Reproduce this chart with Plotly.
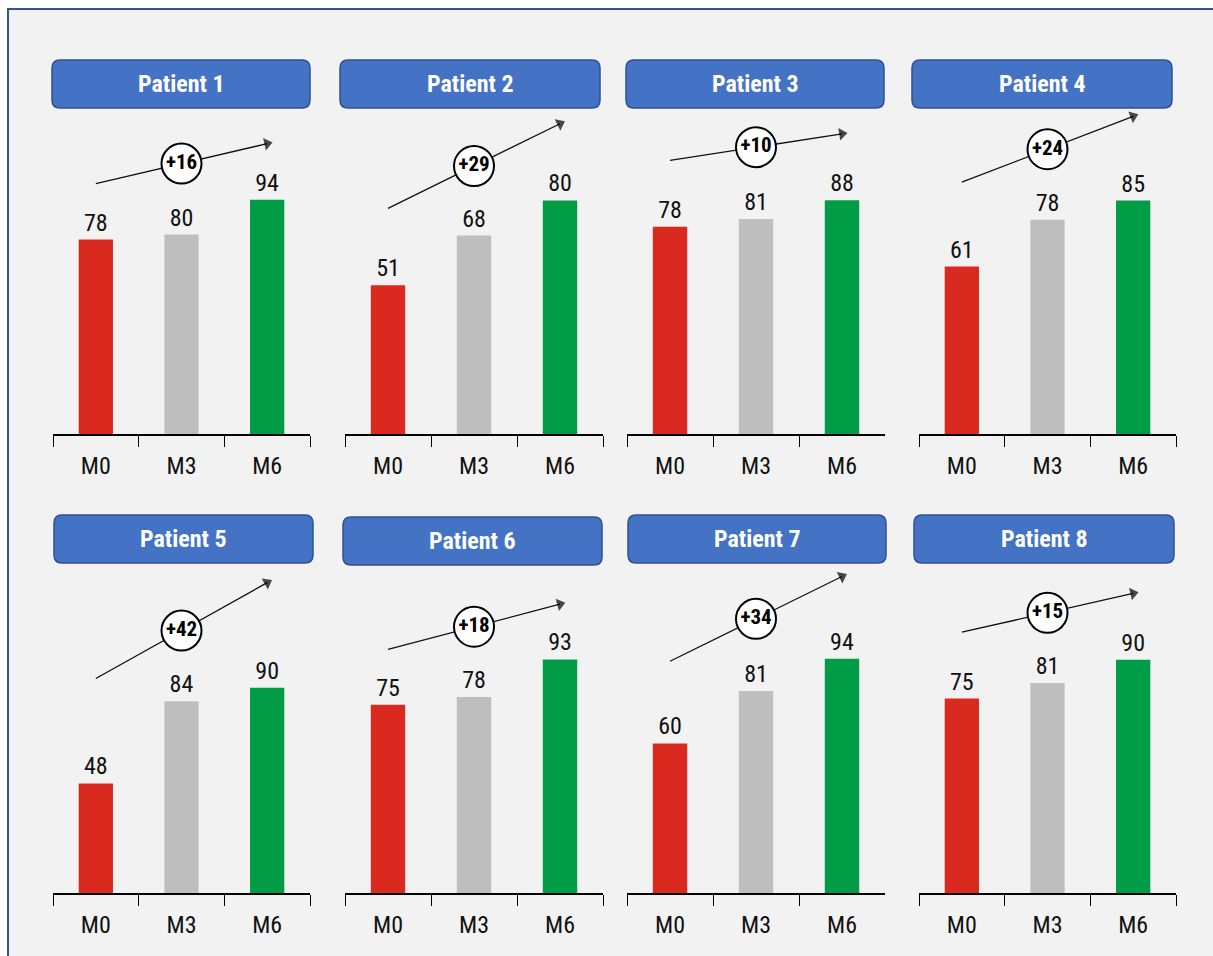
import plotly.graph_objects as go

# ---- data ----
patients = ["Patient 1", "Patient 2", "Patient 3", "Patient 4",
            "Patient 5", "Patient 6", "Patient 7", "Patient 8"]
visits = ["M0", "M3", "M6"]
m0_scores = [78, 51, 78, 61, 48, 75, 60, 75]
m3_scores = [80, 68, 81, 78, 84, 78, 81, 81]
m6_scores = [94, 80, 88, 85, 90, 93, 94, 90]

# ---- layout parameters ----
W, H = 1213, 956
bar_colors = ["#DA2A1F", "#BDBEBD", "#009C46"]
axis_top = [130, 111, 122, 118, 142, 129, 130, 125]          # y-axis upper limit per panel
arrow_lift = [22.5, 26.3, 25, 30.7, 46, 22, 33, 25.6]         # trend arrow height above the bars
col_px = [(53, 310), (345, 603), (627, 885), (919, 1176)]    # panel x extents (px)
row_px = [(110, 434), (569, 893)]                             # panel y extents (px, top/bottom)
header_px = [(52, 310, 60, 108), (340, 600, 60, 108), (626, 884, 60, 108), (912, 1172, 60, 108),
             (54, 313, 515, 563), (343, 602, 517, 565), (628, 886, 515, 563), (914, 1174, 515, 563)]

FONT = "Liberation Sans Narrow, Roboto Condensed, DejaVu Sans Condensed, Lato, sans-serif"


def px_x(v):
    return v / W


def px_y(v):
    return 1 - v / H


fig = go.Figure()
layout_axes = {}
shapes = []
annotations = []

# page frame
shapes.append(dict(type="rect", xref="paper", yref="paper",
                   x0=px_x(8), x1=1.05, y0=-0.05, y1=px_y(9),
                   fillcolor="#F2F2F2", line=dict(color="#2F5597", width=2), layer="below"))

for i, name in enumerate(patients):
    r, c = divmod(i, 4)
    n = i + 1
    xa = "x" if n == 1 else f"x{n}"
    ya = "y" if n == 1 else f"y{n}"
    vals = [m0_scores[i], m3_scores[i], m6_scores[i]]

    fig.add_trace(go.Bar(
        x=visits, y=vals, xaxis=xa, yaxis=ya,
        marker=dict(color=bar_colors, line=dict(width=0)),
        texttemplate="%{y}", textposition="outside", cliponaxis=False,
        textfont=dict(family=FONT, size=24, color="#111111"),
        showlegend=False, hoverinfo="skip"))

    # trend arrow from M0 to M6
    lift = arrow_lift[i]
    fig.add_trace(go.Scatter(
        x=["M0", "M6"], y=[vals[0] + lift, vals[2] + lift], xaxis=xa, yaxis=ya,
        mode="lines+markers", cliponaxis=False,
        line=dict(color="#111111", width=1.3),
        marker=dict(symbol="triangle-up", size=[0, 11], angleref="previous",
                    color="#000000", line=dict(width=0)),
        showlegend=False, hoverinfo="skip"))

    # change badge at the middle of the arrow
    delta = vals[2] - vals[0]
    fig.add_trace(go.Scatter(
        x=["M3"], y=[(vals[0] + vals[2]) / 2 + lift], xaxis=xa, yaxis=ya,
        mode="markers+text", cliponaxis=False,
        marker=dict(symbol="circle", size=40, color="#FFFFFF",
                    line=dict(color="#000000", width=2)),
        text=[f"<b>{delta:+d}</b>"], textposition="middle center",
        textfont=dict(family=FONT, size=21, color="#000000"),
        showlegend=False, hoverinfo="skip"))

    x0, x1 = col_px[c]
    top, bottom = row_px[r]
    layout_axes["xaxis" if n == 1 else f"xaxis{n}"] = dict(
        domain=[px_x(x0), px_x(x1)], anchor=ya,
        showline=True, linecolor="#000000", linewidth=2,
        ticks="outside", tickson="boundaries", ticklen=11, tickwidth=1.3, tickcolor="#000000",
        ticklabelstandoff=9,
        tickfont=dict(family=FONT, size=24, color="#111111"),
        showgrid=False, zeroline=False, fixedrange=True)
    layout_axes["yaxis" if n == 1 else f"yaxis{n}"] = dict(
        domain=[px_y(bottom), px_y(top)], anchor=xa,
        range=[0, axis_top[i]], visible=False, showgrid=False, zeroline=False)

    # rounded header box
    hx0, hx1, hy0, hy1 = header_px[i]
    L, R = px_x(hx0), px_x(hx1)
    T, B = px_y(hy0), px_y(hy1)
    rx, ry = 8 / W, 8 / H
    path = (f"M {L + rx},{T} L {R - rx},{T} Q {R},{T} {R},{T - ry} "
            f"L {R},{B + ry} Q {R},{B} {R - rx},{B} L {L + rx},{B} "
            f"Q {L},{B} {L},{B + ry} L {L},{T - ry} Q {L},{T} {L + rx},{T} Z")
    shapes.append(dict(type="path", path=path, xref="paper", yref="paper",
                       fillcolor="#4472C4", line=dict(color="#2F528F", width=1.5), layer="above"))
    annotations.append(dict(text=f"<b>{name}</b>", xref="paper", yref="paper",
                            x=(L + R) / 2, y=(T + B) / 2, xanchor="center", yanchor="middle",
                            showarrow=False, font=dict(family=FONT, size=24, color="#FFFFFF")))

fig.update_layout(
    width=W, height=H, margin=dict(l=0, r=0, t=0, b=0),
    paper_bgcolor="#FFFFFF", plot_bgcolor="rgba(0,0,0,0)",
    bargap=0.6, shapes=shapes, annotations=annotations,
    **layout_axes)

fig.write_html("out.html", config={"displayModeBar": False})
